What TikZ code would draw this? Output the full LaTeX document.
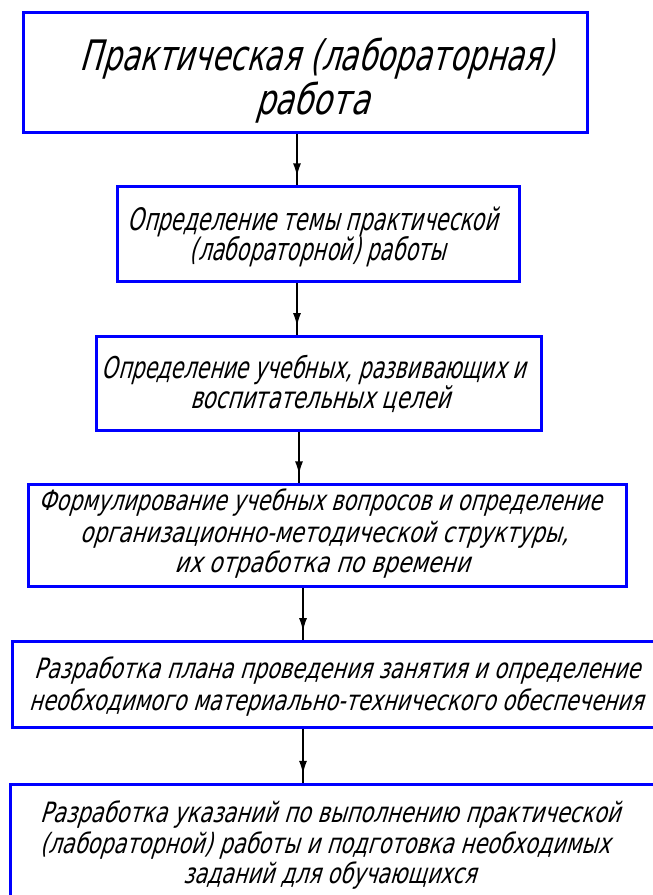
\documentclass[tikz,border=0pt]{standalone}
\usepackage{graphicx}
\usepackage{fontspec}
\setmainfont{DejaVu Sans}[FakeSlant=0.4]
\usetikzlibrary{arrows.meta,decorations.markings}
\newcommand\gline[2]{\resizebox{#1pt}{\height}{#2}}
\begin{document}
\begin{tikzpicture}[x=1pt,y=-1pt,
  box/.style={draw={rgb,255:red,0;green,0;blue,255}, line width=3pt, inner sep=0pt, rectangle},
  txt/.style={inner sep=0pt, anchor=base, text=black},
  fa/.style={font=\fontsize{42}{50}\selectfont},
  fb/.style={font=\fontsize{31}{37}\selectfont},
  fc/.style={font=\fontsize{30}{36}\selectfont},
  fd/.style={font=\fontsize{28}{34}\selectfont},
  conn/.style={line width=1.4pt, postaction={decorate},
    decoration={markings, mark=at position 0.84 with {\arrow{Latex[length=13pt,width=8pt]}}}}]
\useasboundingbox (0,0) rectangle (653,895);
\clip (0,0) rectangle (653,895);
% boxes
\node[box, minimum width=564pt, minimum height=120pt] (b1) at (305,72) {};
\node[box, minimum width=402pt, minimum height=95pt] (b2) at (318,233.5) {};
\node[box, minimum width=445pt, minimum height=94pt] (b3) at (318.5,383) {};
\node[box, minimum width=598pt, minimum height=102pt] (b4) at (327,535) {};
\node[box, minimum width=653pt, minimum height=86pt] (b5) at (338.5,684) {};
\node[box, minimum width=660pt, minimum height=176pt] (b6) at (340,872) {};
% texts
\node[txt, fa] (t1a) at (316.5,70) {\gline{473}{Практическая (лабораторная)}};
\node[txt, fa] (t1b) at (312,114) {\gline{114}{работа}};
\node[txt, fb] (t2a) at (313,230) {\gline{370}{Определение темы практической}};
\node[txt, fb] (t2b) at (318,260) {\gline{256}{(лабораторной) работы}};
\node[txt, fc] (t3a) at (314,378) {\gline{424}{Определение учебных, развивающих и}};
\node[txt, fc] (t3b) at (320,408) {\gline{260}{воспитательных целей}};
\node[txt, fd] (t4a) at (320,510) {\gline{563}{Формулирование учебных вопросов и определение}};
\node[txt, fd] (t4b) at (324,542) {\gline{488}{организационно-методической структуры,}};
\node[txt, fd] (t4c) at (322,572) {\gline{295}{их отработка по времени}};
\node[txt, fd] (t5a) at (337,678) {\gline{606}{Разработка плана проведения занятия и определение}};
\node[txt, fd] (t5b) at (336,710) {\gline{614}{необходимого материально-технического обеспечения}};
\node[txt, fd] (t6a) at (330,822) {\gline{580}{Разработка указаний по выполнению практической}};
\node[txt, fd] (t6b) at (325,853) {\gline{570}{(лабораторной) работы и подготовка необходимых}};
\node[txt, fd] (t6c) at (329.5,883) {\gline{293}{заданий для обучающихся}};
% connectors
\coordinate (x1) at (297,0);
\coordinate (x2) at (297,0);
\coordinate (x3) at (299,0);
\coordinate (x4) at (303,0);
\coordinate (x5) at (303,0);
\draw[conn] (b1.south -| x1) -- (b2.north -| x1);
\draw[conn] (b2.south -| x2) -- (b3.north -| x2);
\draw[conn] (b3.south -| x3) -- (b4.north -| x3);
\draw[conn] (b4.south -| x4) -- (b5.north -| x4);
\draw[conn] (b5.south -| x5) -- (b6.north -| x5);
\end{tikzpicture}
\end{document}
